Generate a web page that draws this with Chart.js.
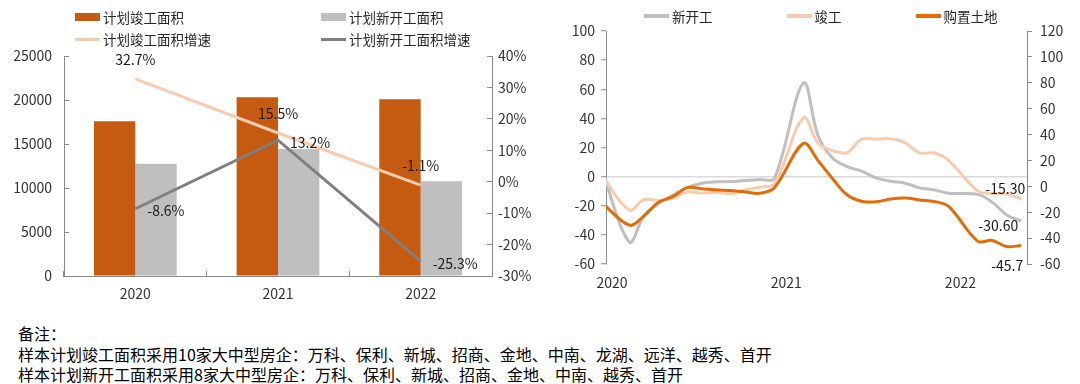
<!DOCTYPE html>
<html lang="zh-CN">

<head>
  <meta charset="UTF-8">
  <meta name="viewport" content="width=device-width, initial-scale=1.0">
  <title>计划竣工与新开工面积</title>
  <style>
    html,
    body {
      margin: 0;
      padding: 0;
      background: #fff;
    }

    body {
      width: 1080px;
      height: 384px;
      position: relative;
      overflow: hidden;
      font-family: "Noto Sans CJK SC", "Noto Sans", sans-serif;
      color: #262626;
    }

    canvas {
      position: absolute;
      top: 0;
    }

    #leftChart {
      left: 0;
    }

    #rightChart {
      left: 540px;
    }

    .legend {
      position: absolute;
      font-size: 13.5px;
      white-space: nowrap;
    }

    .legend .item {
      display: flex;
      align-items: center;
      height: 22px;
    }

    .legend i {
      display: inline-block;
      width: 25px;
      margin-right: 3px;
    }

    .legend i.box {
      height: 8px;
    }

    .legend i.line {
      height: 3px;
    }

    #leftLegend {
      left: 75px;
      top: 6px;
      display: grid;
      grid-template-columns: 246px auto;
    }

    #rightLegend {
      left: 644px;
      top: 5px;
      display: flex;
      column-gap: 74px;
    }

    #rightLegend i.line {
      height: 4px;
    }

    .note {
      position: absolute;
      left: 18px;
      top: 323px;
      font-size: 16px;
      line-height: 20.5px;
      color: #000;
    }
  </style>
</head>

<body>
  <canvas id="leftChart" width="540" height="310"></canvas>
  <canvas id="rightChart" width="540" height="300"></canvas>
  <div class="legend" id="leftLegend"></div>
  <div class="legend" id="rightLegend"></div>
  <div class="note">
    备注：<br>
    样本计划竣工面积采用10家大中型房企：万科、保利、新城、招商、金地、中南、龙湖、远洋、越秀、首开<br>
    样本计划新开工面积采用8家大中型房企：万科、保利、新城、招商、金地、中南、越秀、首开
  </div>

  <script src="https://cdnjs.cloudflare.com/ajax/libs/Chart.js/4.4.1/chart.umd.min.js"></script>
  <script>
    // left chart: planned completion / new-start area (万平方米) and growth (%)
    const years = ['2020', '2021', '2022']
    const completedArea = [17580, 20300, 20080]
    const startedArea = [12750, 14430, 10780]
    const completedGrowth = [32.7, 15.5, -1.1]
    const startedGrowth = [-8.6, 13.2, -25.3]

    // right chart: cumulative YoY (%), monthly (Jan merged into Feb)
    const months = [
      '2019-12',
      '2020-02', '2020-03', '2020-04', '2020-05', '2020-06', '2020-07', '2020-08', '2020-09', '2020-10', '2020-11', '2020-12',
      '2021-02', '2021-03', '2021-04', '2021-05', '2021-06', '2021-07', '2021-08', '2021-09', '2021-10', '2021-11', '2021-12',
      '2022-02', '2022-03', '2022-04', '2022-05'
    ]
    const newStarts = [8.5,
      -44.9, -27.2, -18.4, -12.8, -7.6, -4.5, -3.6, -3.4, -2.6, -2.0, -1.2,
      64.3, 28.2, 12.8, 6.9, 3.8, -0.9, -3.2, -4.5, -7.7, -9.1, -11.4,
      -12.2, -17.5, -26.3, -30.6]
    const completions = [2.6,
      -22.9, -15.8, -16.4, -14.9, -10.5, -11.3, -10.8, -11.6, -9.2, -7.3, -4.9,
      40.4, 22.9, 17.9, 16.4, 25.7, 25.7, 26.0, 23.4, 16.3, 16.2, 11.2,
      -9.8, -11.5, -11.9, -15.3]
    const landPurchase = [-11.4,
      -30.0, -23.0, -12.5, -8.0, -1.0, -1.8, -2.7, -3.3, -4.3, -5.4, -1.1,
      33.2, 20.0, 6.0, -6.5, -11.5, -12.0, -9.8, -9.0, -10.5, -11.7, -15.5,
      -42.3, -41.8, -46.5, -45.7]
    const yearTicks = ['2020', '2021', '2022']

    const FONT = '"Noto Sans CJK SC", "Noto Sans", sans-serif'
    const AXIS = '#898989'
    Chart.defaults.font.family = FONT
    Chart.defaults.font.size = 14
    Chart.defaults.color = '#333'

    // data points sit a little past the start of their month on the date axis
    const toMonthPos = m => {
      const [y, mo] = m.split('-').map(Number)
      return (y - 2020) * 12 + (mo - 1) + 0.6
    }
    const series = values => values.map((v, i) => ({ x: toMonthPos(months[i]), y: v }))

    const leftLabels = {
      id: 'leftLabels',
      afterDatasetsDraw(chart) {
        const ctx = chart.ctx
        ctx.save()
        ctx.font = '14px ' + FONT
        ctx.fillStyle = '#1a1a1a'
        ctx.textBaseline = 'middle'
        ctx.textAlign = 'center'
        chart.getDatasetMeta(2).data.forEach((pt, i) => {
          ctx.fillText(completedGrowth[i].toFixed(1) + '%', pt.x, pt.y - 19)
        })
        ctx.textAlign = 'left'
        chart.getDatasetMeta(3).data.forEach((pt, i) => {
          ctx.fillText(startedGrowth[i].toFixed(1) + '%', pt.x + 12, pt.y + 2)
        })
        ctx.restore()
      }
    }

    const endLabels = {
      id: 'endLabels',
      afterDatasetsDraw(chart) {
        const ctx = chart.ctx
        const shift = [[-3, 5], [4, -10], [2, 20]]
        ctx.save()
        ctx.font = '14px ' + FONT
        ctx.fillStyle = '#1a1a1a'
        ctx.textBaseline = 'middle'
        ctx.textAlign = 'right'
        chart.data.datasets.forEach((ds, i) => {
          const pts = chart.getDatasetMeta(i).data
          const pt = pts[pts.length - 1]
          const v = ds.data[ds.data.length - 1].y
          ctx.fillText(v.toFixed(ds.digits), pt.x + shift[i][0], pt.y + shift[i][1])
        })
        ctx.restore()
      }
    }

    function buildLegend(el, datasets) {
      datasets.forEach(ds => {
        const item = document.createElement('div')
        item.className = 'item'
        const mark = document.createElement('i')
        mark.className = ds.type === 'bar' ? 'box' : 'line'
        mark.style.background = ds.type === 'bar' ? ds.backgroundColor : ds.borderColor
        item.appendChild(mark)
        item.appendChild(document.createTextNode(ds.label))
        el.appendChild(item)
      })
    }

    function drawLeft() {
      const datasets = [
        {
          type: 'bar',
          label: '计划竣工面积',
          data: completedArea,
          backgroundColor: '#c55a11',
          yAxisID: 'y',
          order: 1,
          categoryPercentage: 0.58,
          barPercentage: 1
        },
        {
          type: 'bar',
          label: '计划新开工面积',
          data: startedArea,
          backgroundColor: '#bfbfbf',
          yAxisID: 'y',
          order: 1,
          categoryPercentage: 0.58,
          barPercentage: 1
        },
        {
          type: 'line',
          label: '计划竣工面积增速',
          data: completedGrowth,
          borderColor: '#f8cbad',
          borderWidth: 3,
          pointRadius: 0,
          yAxisID: 'y1',
          order: 0
        },
        {
          type: 'line',
          label: '计划新开工面积增速',
          data: startedGrowth,
          borderColor: '#7f7f7f',
          borderWidth: 3,
          pointRadius: 0,
          yAxisID: 'y1',
          order: 0
        }
      ]

      new Chart(document.getElementById('leftChart'), {
        data: { labels: years, datasets },
        options: {
          responsive: false,
          animation: false,
          layout: { padding: { top: 56, left: 0, right: 0, bottom: 0 } },
          plugins: { legend: { display: false }, tooltip: { enabled: false } },
          scales: {
            x: {
              type: 'category',
              offset: true,
              grid: { drawOnChartArea: false, offset: true, tickLength: -5, color: AXIS },
              border: { color: AXIS },
              ticks: { padding: 14, maxRotation: 0 },
              afterFit: s => { s.height = 34 }
            },
            y: {
              position: 'left',
              min: 0,
              max: 25000,
              ticks: { stepSize: 5000, padding: 17, callback: v => String(v) },
              grid: { drawOnChartArea: false, tickLength: -5, color: AXIS },
              border: { color: AXIS },
              afterFit: s => { s.width = 64 }
            },
            y1: {
              position: 'right',
              min: -30,
              max: 40,
              ticks: { stepSize: 10, padding: 11, callback: v => v + '%' },
              grid: { drawOnChartArea: false, tickLength: -5, color: AXIS },
              border: { color: AXIS },
              afterFit: s => { s.width = 48 }
            }
          }
        },
        plugins: [leftLabels]
      })

      buildLegend(document.getElementById('leftLegend'), datasets)
    }

    function drawRight() {
      const datasets = [
        {
          type: 'line',
          label: '新开工',
          data: series(newStarts),
          borderColor: '#bfbfbf',
          yAxisID: 'y',
          order: 2,
          digits: 2
        },
        {
          type: 'line',
          label: '竣工',
          data: series(completions),
          borderColor: '#f8cbad',
          yAxisID: 'y',
          order: 1,
          digits: 2
        },
        {
          type: 'line',
          label: '购置土地',
          data: series(landPurchase),
          borderColor: '#e36c09',
          yAxisID: 'y1',
          order: 0,
          digits: 1
        }
      ]
      datasets.forEach(ds => {
        ds.borderWidth = 3
        ds.pointRadius = 0
        ds.tension = 0.35
      })

      new Chart(document.getElementById('rightChart'), {
        type: 'line',
        data: { datasets },
        options: {
          responsive: false,
          animation: false,
          layout: { padding: { top: 31, left: 0, right: 0, bottom: 0 } },
          plugins: { legend: { display: false }, tooltip: { enabled: false } },
          scales: {
            x: {
              type: 'linear',
              min: 0,
              max: 29,
              grid: { display: false, drawTicks: false },
              border: { display: false },
              ticks: {
                autoSkip: false,
                maxRotation: 0,
                labelOffset: 6,
                padding: 10,
                callback: v => yearTicks[v / 12]
              },
              afterBuildTicks: s => { s.ticks = yearTicks.map((_, i) => ({ value: i * 12 })) },
              afterFit: s => { s.height = 36 }
            },
            y: {
              position: 'left',
              min: -60,
              max: 100,
              ticks: { stepSize: 20, padding: 6 },
              grid: {
                drawOnChartArea: true,
                color: c => c.tick && c.tick.value === 0 ? '#d9d9d9' : 'rgba(0,0,0,0)',
                lineWidth: 1.5,
                tickColor: AXIS,
                tickWidth: 1,
                tickLength: 5
              },
              border: { color: AXIS },
              afterFit: s => { s.width = 66 }
            },
            y1: {
              position: 'right',
              min: -60,
              max: 120,
              ticks: { stepSize: 20, padding: 8 },
              grid: { drawOnChartArea: false, tickLength: 5, color: AXIS },
              border: { color: AXIS },
              afterFit: s => { s.width = 53 }
            }
          }
        },
        plugins: [endLabels]
      })

      buildLegend(document.getElementById('rightLegend'), datasets)
    }

    window.onload = () => {
      drawLeft()
      drawRight()
    }
  </script>
</body>

</html>
